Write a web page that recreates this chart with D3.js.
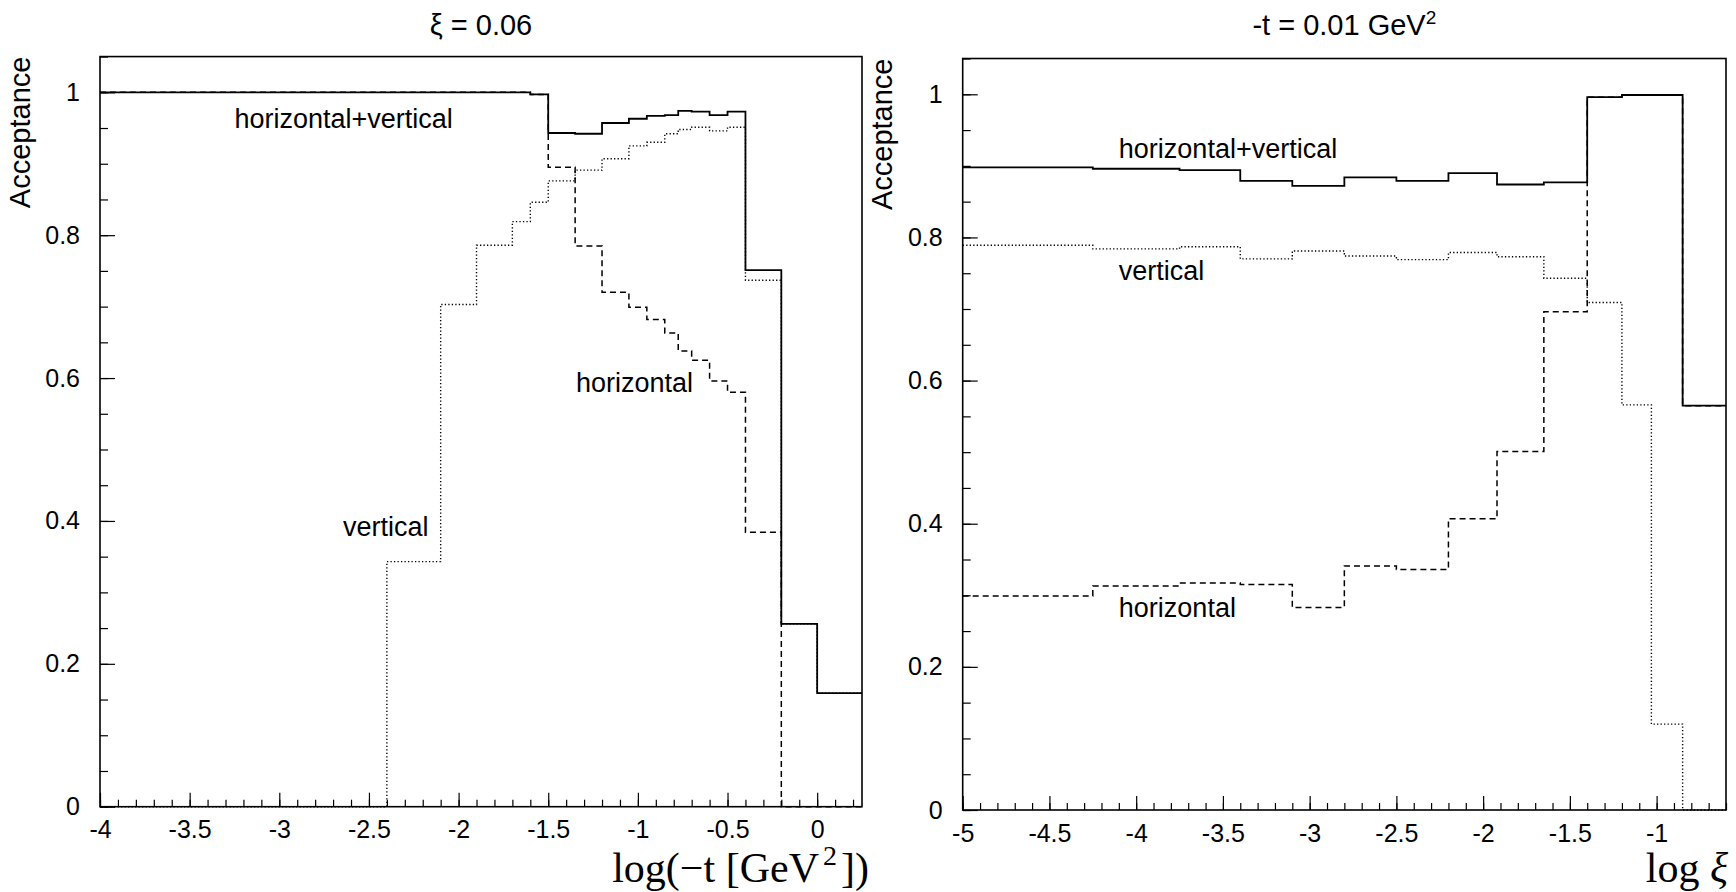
<!DOCTYPE html>
<html>
<head>
<meta charset="utf-8">
<title>Acceptance</title>
<script src="https://d3js.org/d3.v7.min.js"></script>
<style>
body { margin: 0; background: #fff; }
svg text { font-family: "Liberation Sans", Arial, Helvetica, sans-serif; fill: #000; }
.hist { fill: none; stroke: #000; }
.both { stroke-width: 1.8; }
.horiz { stroke-width: 1.5; stroke-dasharray: 6,4; }
.vert { stroke-width: 1.4; stroke-dasharray: 1.3,2.2; }
.frame { fill: none; stroke: #000; stroke-width: 1.6; }
.axis path { display: none; }
.axis line { stroke: #000; stroke-width: 1.2; }
.axis text { font-size: 25px; }
.serif { font-family: "Liberation Serif", "Times New Roman", serif; }
</style>
</head>
<body>
<div id="chart"></div>
<script>

// ---- left panel: xi = 0.06, vs log(-t)
var tEdges = [-4, -2.4, -2.1, -1.9, -1.7, -1.6, -1.5, -1.35, -1.2, -1.05, -0.95,
              -0.85, -0.775, -0.7, -0.6, -0.5, -0.4, -0.2, 0, 0.25];
var tBoth  = [1.0, 1.0, 1.0, 1.0, 1.0, 0.997, 0.943, 0.942, 0.957, 0.963,
              0.967, 0.968, 0.974, 0.973, 0.968, 0.973, 0.751, 0.256, 0.159];
var tHoriz = [1.0, 1.0, 1.0, 1.0, 1.0, 0.997, 0.895, 0.785, 0.720, 0.699,
              0.682, 0.663, 0.638, 0.625, 0.596, 0.580, 0.384, 0, 0];
var tVert  = [0, 0.343, 0.703, 0.786, 0.819, 0.846, 0.876, 0.891, 0.907, 0.925,
              0.930, 0.942, 0.948, 0.951, 0.946, 0.951, 0.737, 0.256, 0.159];
var tTicks = [-4, -3.5, -3, -2.5, -2, -1.5, -1, -0.5, 0];

// ---- right panel: -t = 0.01 GeV^2, vs log(xi)
var xiEdges = [-5, -4.25, -3.75, -3.4, -3.1, -2.8, -2.5, -2.2, -1.92, -1.65,
               -1.4, -1.2, -1.03, -0.85, -0.6];
var xiBoth  = [0.898, 0.896, 0.894, 0.879, 0.872, 0.884, 0.879, 0.890, 0.874,
               0.877, 0.996, 0.999, 0.999, 0.565];
var xiHoriz = [0.299, 0.313, 0.317, 0.315, 0.283, 0.341, 0.336, 0.407, 0.501,
               0.696, 0.996, 0.999, 0.999, 0.565];
var xiVert  = [0.789, 0.784, 0.787, 0.770, 0.781, 0.774, 0.769, 0.779, 0.773,
               0.743, 0.709, 0.566, 0.120, 0];
var xiTicks = [-5, -4.5, -4, -3.5, -3, -2.5, -2, -1.5, -1];

var accTicks = [0, 0.2, 0.4, 0.6, 0.8, 1];

var W = 1736, H = 892;

var svg = d3.select("#chart").append("svg")
    .attr("width", W)
    .attr("height", H);

var fmt = function(d) { return String(+d.toFixed(2)); };

var panels = [
  { edges: tEdges, both: tBoth, horiz: tHoriz, vert: tVert, ticks: tTicks,
    xDomain: [-4, 0.25], left: 100, right: 862, bottom: 806.7, unit: 714.4,
    title: "t", ylabX: 30,
    labels: [ {text: "horizontal+vertical", x: -3.25, y: 0.95},
              {text: "horizontal", x: -1.345, y: 0.5805},
              {text: "vertical", x: -2.645, y: 0.379} ] },
  { edges: xiEdges, both: xiBoth, horiz: xiHoriz, vert: xiVert, ticks: xiTicks,
    xDomain: [-5, -0.6], left: 962.7, right: 1726, bottom: 810, unit: 715.7,
    title: "xi", ylabX: 892,
    labels: [ {text: "horizontal+vertical", x: -4.1, y: 0.9106},
              {text: "vertical", x: -4.1, y: 0.7405},
              {text: "horizontal", x: -4.1, y: 0.270} ] }
];

panels.forEach(function(p) {
  var top = p.bottom - 1.05 * p.unit;
  var x = d3.scaleLinear().domain(p.xDomain).range([p.left, p.right]);
  var y = d3.scaleLinear().domain([0, 1.05]).range([p.bottom, top]);
  var g = svg.append("g");

  // histogram outline: each bin as a flat step
  var line = d3.line()
      .x(function(d) { return x(d[0]); })
      .y(function(d) { return y(d[1]); });
  function steps(vals) {
    var pts = [];
    vals.forEach(function(v, i) {
      pts.push([p.edges[i], v]);
      pts.push([p.edges[i + 1], v]);
    });
    return pts;
  }

  g.append("path").attr("class", "hist both").attr("d", line(steps(p.both)));
  g.append("path").attr("class", "hist horiz").attr("d", line(steps(p.horiz)));
  g.append("path").attr("class", "hist vert").attr("d", line(steps(p.vert)));

  // axes, ticks pointing inside like ROOT
  g.append("g").attr("class", "axis")
      .attr("transform", "translate(0," + p.bottom + ")")
      .call(d3.axisBottom(x).tickValues(d3.range(p.xDomain[0], p.xDomain[1] + 1e-6, 0.1))
        .tickSizeInner(-7).tickSizeOuter(0).tickFormat(""));
  g.append("g").attr("class", "axis")
      .attr("transform", "translate(0," + p.bottom + ")")
      .call(d3.axisBottom(x).tickValues(p.ticks)
        .tickSizeInner(-14).tickSizeOuter(0).tickPadding(14).tickFormat(fmt));

  g.append("g").attr("class", "axis")
      .attr("transform", "translate(" + p.left + ",0)")
      .call(d3.axisLeft(y).tickValues(d3.range(0, 1.0501, 0.05))
        .tickSizeInner(-8).tickSizeOuter(0).tickFormat(""));
  g.append("g").attr("class", "axis")
      .attr("transform", "translate(" + p.left + ",0)")
      .call(d3.axisLeft(y).tickValues(accTicks)
        .tickSizeInner(-15).tickSizeOuter(0).tickPadding(20).tickFormat(fmt));

  g.append("rect").attr("class", "frame")
      .attr("x", p.left).attr("y", top)
      .attr("width", p.right - p.left).attr("height", p.bottom - top);

  // curve labels
  g.selectAll(".lab")
      .data(p.labels)
    .enter().append("text")
      .attr("class", "lab")
      .attr("x", function(d) { return x(d.x); })
      .attr("y", function(d) { return y(d.y); })
      .style("font-size", "27px")
      .text(function(d) { return d.text; });

  // y title
  g.append("text")
      .attr("transform", "translate(" + p.ylabX + "," + top + ") rotate(-90)")
      .attr("text-anchor", "end")
      .style("font-size", "29px")
      .text("Acceptance");

  // panel title
  var t = g.append("text")
      .attr("x", (p.left + p.right) / 2)
      .attr("y", 35)
      .attr("text-anchor", "middle")
      .style("font-size", "29px");
  if (p.title === "t") {
    t.text("ξ = 0.06");
  } else {
    t.append("tspan").text("-t = 0.01 GeV");
    t.append("tspan").attr("dy", -11).style("font-size", "19px").text("2");
  }

  // x title in serif
  var xt = g.append("text")
      .attr("class", "serif")
      .attr("text-anchor", "end")
      .attr("y", 882)
      .style("font-size", "42px");
  if (p.title === "t") {
    xt.attr("x", 869);
    xt.append("tspan").text("log(\u2212t [GeV");
    xt.append("tspan").attr("dy", -17).attr("dx", 4).style("font-size", "28px").text("2");
    xt.append("tspan").attr("dy", 17).attr("dx", 4).text("])");
  } else {
    xt.attr("x", 1728);
    xt.append("tspan").text("log ");
    xt.append("tspan").style("font-style", "italic").text("ξ");
  }
});

</script>
</body>
</html>
